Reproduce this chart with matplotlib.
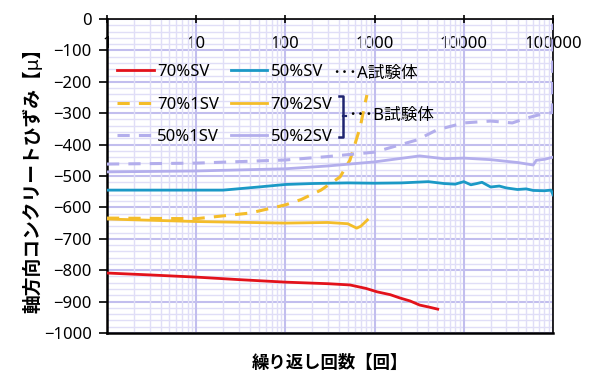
import numpy as np
import matplotlib
matplotlib.use("Agg")
import matplotlib.pyplot as plt
from matplotlib.ticker import FixedLocator, LogLocator, NullFormatter, MultipleLocator

plt.rcParams['font.family'] = ['Noto Sans', 'Noto Sans CJK JP', 'DejaVu Sans']

# ── Data (cycles, axial concrete strain in micro) ──────────────────────────
# A specimens
n_70sv = [1, 3, 10, 30, 100, 300, 530, 800, 1070, 1500, 1900, 2500, 3200, 4000, 5100]
e_70sv = [-809, -815, -822, -830, -838, -843, -847, -858, -869, -878, -888, -898, -911, -917, -924]

n_50sv = [1, 10, 20, 50, 100, 200, 500, 1000, 2000, 4000, 6000, 8000, 10000, 12000,
          14000, 16000, 20000, 25000, 30000, 40000, 50000, 60000, 80000, 95000, 100000]
e_50sv = [-545, -545, -545, -535, -527, -524, -522, -523, -522, -518, -524, -526, -518, -528,
          -524, -520, -535, -532, -538, -543, -541, -546, -547, -545, -560]

# B specimens
n_70_1sv = [1, 10, 40, 100, 150, 250, 410, 530, 600, 690, 780, 820]
e_70_1sv = [-634, -636, -618, -592, -575, -545, -503, -449, -400, -344, -270, -242]

n_70_2sv = [1, 10, 100, 300, 500, 630, 700, 830]
e_70_2sv = [-637, -645, -650, -648, -652, -666, -660, -640]

n_50_1sv = [1, 10, 100, 300, 1000, 3000, 5000, 10000, 20000, 35000, 50000, 70000, 90000, 98000, 100000]
e_50_1sv = [-462, -459, -449, -438, -424, -385, -353, -331, -325, -331, -316, -305, -300, -298, -15]

n_50_2sv = [1, 10, 100, 300, 1000, 3200, 6000, 10000, 20000, 40000, 60000, 65000, 80000, 100000]
e_50_2sv = [-487, -484, -477, -468, -455, -436, -445, -443, -448, -457, -465, -450, -447, -440]

x_ticks = [1, 10, 100, 1000, 10000, 100000]
x_tick_labels = ["1", "10", "100", "1000", "10000", "100000"]

RED = "#e3121b"
BLUE = "#1b99c6"
YELLOW = "#f4bd2a"
LAVENDER = "#b3aeec"
NAVY = "#1f2470"
FS = 12

fig = plt.figure(figsize=(5.96, 3.72), dpi=100)
ax = fig.add_axes([107 / 596, 1 - 333 / 372, 446 / 596, 314 / 372])

ax.set_xscale("log")
ax.set_xlim(1, 100000)
ax.set_ylim(-1000, 0)

# grid
ax.xaxis.set_major_locator(FixedLocator(x_ticks))
ax.xaxis.set_minor_locator(LogLocator(base=10, subs=np.arange(2, 10)))
ax.xaxis.set_minor_formatter(NullFormatter())
ax.yaxis.set_major_locator(MultipleLocator(100))
ax.yaxis.set_minor_locator(MultipleLocator(20))
ax.grid(True, which="major", color="#c2beee", linewidth=1.5)
ax.grid(True, which="minor", color="#e0def7", linewidth=1.0)
ax.set_axisbelow(True)

# series
ax.plot(n_70sv, e_70sv, color=RED, lw=2.0, label="70%SV", zorder=3)
ax.plot(n_70_1sv, e_70_1sv, color=YELLOW, lw=2.2, ls=(0, (4, 3)), label="70%1SV", zorder=3)
ax.plot(n_50_1sv, e_50_1sv, color=LAVENDER, lw=2.2, ls=(0, (4, 3)), label="50%1SV", zorder=3)
ax.plot(n_50sv, e_50sv, color=BLUE, lw=2.0, label="50%SV", zorder=3)
ax.plot(n_70_2sv, e_70_2sv, color=YELLOW, lw=2.0, label="70%2SV", zorder=3)
ax.plot(n_50_2sv, e_50_2sv, color=LAVENDER, lw=2.0, label="50%2SV", zorder=3)

# axes styling: x axis sits on the top (strain = 0)
ax.set_xticks(x_ticks)
ax.set_xticklabels(x_tick_labels)
ax.tick_params(axis="x", which="major", top=True, bottom=False, labeltop=True,
               labelbottom=False, direction="inout", length=6, width=1.2,
               pad=-27, labelsize=FS, colors="black")
ax.tick_params(axis="x", which="minor", top=False, bottom=False)
ax.tick_params(axis="y", which="major", direction="out", length=6, width=1.2,
               labelsize=FS, pad=5)
ax.tick_params(axis="y", which="minor", left=False)
for side in ["left", "bottom"]:
    ax.spines[side].set_linewidth(1.8)
for side in ["top", "right"]:
    ax.spines[side].set_linewidth(1.2)
for sp in ax.spines.values():
    sp.set_zorder(2.7)
# top tick labels sit inside the frame, over the grid
ax.xaxis.set_zorder(2.6)

ax.set_ylabel("軸方向コンクリートひずみ【μ】", fontsize=13.5, fontweight="bold", labelpad=1)
ax.set_xlabel("繰り返し回数【回】", fontsize=12.5, fontweight="bold", labelpad=10)

leg = ax.legend(ncol=2, loc="upper left", bbox_to_anchor=(0.0, 0.888), frameon=False,
                fontsize=FS, handlelength=2.2, handletextpad=0.2, columnspacing=0.7,
                labelspacing=0.98, borderaxespad=0.2)
leg.set_zorder(4)

# specimen group notes
ax.text(0.505, 0.826, "･･･A試験体", transform=ax.transAxes, fontsize=FS,
        va="center", ha="left")
ax.plot([0.52, 0.529, 0.529, 0.52], [0.755, 0.755, 0.625, 0.625], color=NAVY, lw=1.8,
        transform=ax.transAxes, zorder=4)
ax.plot([0.529, 0.536], [0.69, 0.69], color=NAVY, lw=1.6,
        transform=ax.transAxes, zorder=4)
ax.text(0.54, 0.69, "･･･B試験体", transform=ax.transAxes, fontsize=FS,
        va="center", ha="left")

fig.savefig("out.png", dpi=100)
